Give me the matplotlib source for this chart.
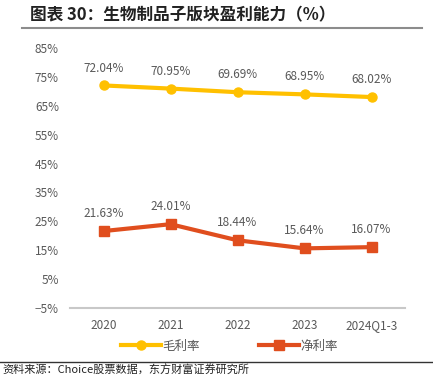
import matplotlib.pyplot as plt
from matplotlib.lines import Line2D

plt.rcParams['font.family'] = ['Noto Sans CJK SC', 'DejaVu Sans']

# data
years = ["2020", "2021", "2022", "2023", "2024Q1-3"]
gross_margin = [72.04, 70.95, 69.69, 68.95, 68.02]
net_margin = [21.63, 24.01, 18.44, 15.64, 16.07]
yticks = [-5, 5, 15, 25, 35, 45, 55, 65, 75, 85]

yellow = "#FFC000"
red = "#E04E1E"
grey = "#595959"

fig = plt.figure(figsize=(4.33, 3.77), dpi=100)
ax = fig.add_axes([70 / 433, 1 - 308 / 377, 335 / 433, 260 / 377])

x = list(range(len(years)))
ax.plot(x, gross_margin, color=yellow, lw=3, marker="o", ms=6.5, label="毛利率")
ax.plot(x, net_margin, color=red, lw=3, marker="s", ms=6.5, label="净利率")

# data labels above each point
for i in x:
    ax.annotate(f"{gross_margin[i]:.2f}%", (i, gross_margin[i]), xytext=(0, 10),
                textcoords="offset points", ha="center", fontsize=8.5, color=grey)
    ax.annotate(f"{net_margin[i]:.2f}%", (i, net_margin[i]), xytext=(0, 10),
                textcoords="offset points", ha="center", fontsize=8.5, color=grey)

ax.set_xlim(-0.5, len(years) - 0.5)
ax.set_ylim(-5, 85)
ax.set_yticks(yticks)
ax.set_yticklabels([f"{t}%".replace("-", "−") for t in yticks])
ax.set_xticks(x)
ax.set_xticklabels(years)
ax.tick_params(axis="both", length=0, labelsize=8.5, labelcolor=grey)
ax.tick_params(axis="y", pad=8)
ax.tick_params(axis="x", pad=8)
for s in ["top", "right", "left"]:
    ax.spines[s].set_visible(False)
ax.spines["bottom"].set_color("#C8C8C8")
ax.spines["bottom"].set_linewidth(1.5)

# legend
handles = [Line2D([], [], color=yellow, lw=3, marker="o", ms=6.5),
           Line2D([], [], color=red, lw=3, marker="s", ms=6.5)]
fig.legend(handles, ["毛利率", "净利率"], loc="center", bbox_to_anchor=(0.53, 1 - 346 / 377),
           ncol=2, frameon=False, fontsize=9, labelcolor=grey, handlelength=3.2,
           handletextpad=0.1, columnspacing=4.8)

# title and source
fig.text(30 / 433, 1 - 15 / 377, "图表 30：生物制品子版块盈利能力（%）", fontsize=12,
         fontweight="bold", va="center", ha="left", color="#222222")
fig.add_artist(Line2D([22 / 433, 422 / 433], [1 - 28 / 377, 1 - 28 / 377], color="#8C8C8C", lw=1.5))
fig.add_artist(Line2D([0, 1], [1 - 362 / 377, 1 - 362 / 377], color="#333333", lw=1))
fig.text(2 / 433, 1 - 370 / 377, "资料来源：Choice股票数据，东方财富证券研究所", fontsize=8,
         va="center", ha="left", color="#222222")

fig.savefig("out.png", dpi=100)
